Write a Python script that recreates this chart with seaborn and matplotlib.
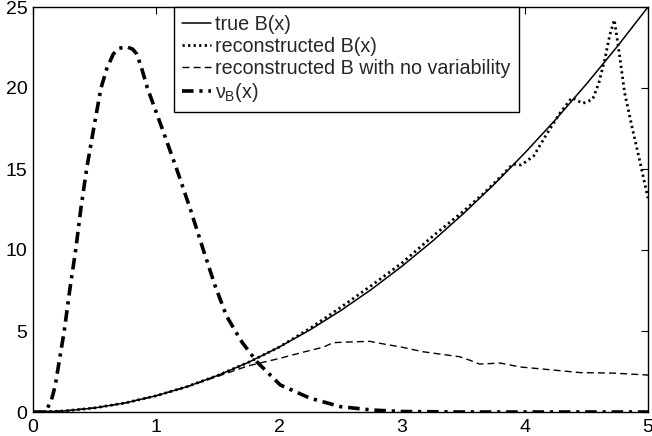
import matplotlib
matplotlib.use("Agg")
import matplotlib.pyplot as plt
import seaborn as sns
import pandas as pd
from matplotlib.lines import Line2D

# ---- data ----
x_true = [0, 0.25, 0.5, 0.75, 1.0, 1.25, 1.5, 1.75, 2.0, 2.25, 2.5, 2.75,
          3.0, 3.25, 3.5, 3.75, 4.0, 4.25, 4.5, 4.75, 5.0]
y_true = [0, 0.06, 0.25, 0.56, 1.0, 1.56, 2.25, 3.06, 4.0, 5.06, 6.25, 7.56,
          9.0, 10.56, 12.25, 14.06, 16.0, 18.06, 20.25, 22.56, 25.0]

x_rec = [0, 0.25, 0.5, 0.75, 1.0, 1.25, 1.5, 1.75, 2.0, 2.25, 2.5, 2.75,
         3.0, 3.25, 3.5, 3.65, 3.8, 3.9, 3.97, 4.07, 4.18, 4.28, 4.38, 4.47,
         4.55, 4.6, 4.65, 4.69, 4.726, 4.76, 4.81, 4.87, 4.93, 5.0]
y_rec = [0, 0.06, 0.25, 0.56, 1.0, 1.56, 2.25, 3.06, 4.0, 5.15, 6.45, 7.8,
         9.2, 10.85, 12.4, 13.4, 14.5, 15.3, 15.25, 15.8, 17.2, 18.4, 19.4, 19.05,
         19.3, 20.3, 21.8, 23.3, 24.2, 22.5, 19.7, 17.6, 15.6, 13.2]

x_novar = [0, 0.25, 0.5, 0.75, 1.0, 1.25, 1.5, 1.75, 2.0, 2.2, 2.36, 2.44,
           2.6, 2.74, 2.85, 3.0, 3.17, 3.47, 3.55, 3.63, 3.8, 3.96, 4.23,
           4.45, 4.72, 5.0]
y_novar = [0, 0.06, 0.25, 0.56, 1.0, 1.55, 2.2, 2.85, 3.3, 3.7, 4.0, 4.28,
           4.33, 4.36, 4.2, 4.0, 3.72, 3.41, 3.2, 2.96, 3.02, 2.78, 2.59,
           2.43, 2.4, 2.28]

x_nu = [0, 0.1, 0.12, 0.15, 0.18, 0.206, 0.254, 0.3, 0.347, 0.39, 0.436,
        0.5, 0.553, 0.6, 0.653, 0.7, 0.76, 0.81, 0.843, 0.88, 0.93, 1.05,
        1.168, 1.28, 1.385, 1.48, 1.575, 1.7, 1.82, 2.01, 2.25, 2.5, 2.76,
        3.0, 3.5, 4.0, 4.5, 5.0]
y_nu = [0, 0, 0.27, 0.75, 1.6, 2.8, 5.0, 7.6, 10.0, 12.6, 15.0,
        17.8, 20.0, 21.2, 22.1, 22.45, 22.55, 22.4, 22.1, 21.3, 20.0, 17.5,
        15.0, 12.5, 10.0, 7.8, 5.9, 4.3, 3.1, 1.67, 0.86, 0.33, 0.12,
        0.03, 0.0, 0.0, 0.0, 0.0]

labels = ["true B(x)", "reconstructed B(x)",
          "reconstructed B with no variability", r"$\nu_B$(x)"]
x_ticks = [0, 1, 2, 3, 4, 5]
y_ticks = [0, 5, 10, 15, 20, 25]

# ---- plotting ----
sns.set_style("white")
plt.rcParams["font.family"] = ["Liberation Sans", "DejaVu Sans"]
plt.rcParams["mathtext.fontset"] = "custom"
plt.rcParams["mathtext.rm"] = "Liberation Sans"
plt.rcParams["mathtext.it"] = "Liberation Sans"

fig = plt.figure(figsize=(6.52, 4.36), dpi=100)
ax = fig.add_axes([33 / 652, (436 - 412) / 436, 615 / 652, 405 / 436])

styles = [
    dict(data=pd.DataFrame({"x": x_true, "y": y_true}), lw=1.1, ls="-"),
    dict(data=pd.DataFrame({"x": x_rec, "y": y_rec}), lw=2.0, ls=(0, (0.8, 1.2))),
    dict(data=pd.DataFrame({"x": x_novar, "y": y_novar}), lw=1.0, ls=(0, (5, 3))),
    dict(data=pd.DataFrame({"x": x_nu, "y": y_nu}), lw=2.6, ls=(0, (3.2, 1.6, 0.9, 1.6))),
]
handles = []
for st, lab in zip(styles, labels):
    sns.lineplot(data=st["data"], x="x", y="y", ax=ax, color="black",
                 linewidth=st["lw"], linestyle=st["ls"], sort=False,
                 estimator=None)
    handles.append(Line2D([], [], color="black", lw=st["lw"], linestyle=st["ls"]))

ax.set_xlim(0, 5)
ax.set_ylim(0, 25)
ax.set_xticks(x_ticks)
ax.set_yticks(y_ticks)
ax.set_xticklabels([str(v) for v in x_ticks])
ax.set_yticklabels([str(v) for v in y_ticks])
ax.set_xlabel("")
ax.set_ylabel("")
ax.tick_params(direction="in", length=5, width=0.8, top=True, right=True,
               labelsize=14, colors="black")
ax.tick_params(axis="x", pad=5)
ax.tick_params(axis="y", pad=4)
for sp in ax.spines.values():
    sp.set_visible(True)
    sp.set_color("black")
    sp.set_linewidth(1.0)

leg = ax.legend(handles, labels, loc="upper left",
                bbox_to_anchor=((174 - 33) / 615, 1.0), borderaxespad=0,
                fontsize=14.2, frameon=True, fancybox=False, edgecolor="black",
                handlelength=1.5, handletextpad=0.2, labelspacing=0.15,
                borderpad=0.4)
leg.get_frame().set_linewidth(1.0)
leg.get_frame().set_alpha(1)

fig.savefig("out.png", dpi=100)
